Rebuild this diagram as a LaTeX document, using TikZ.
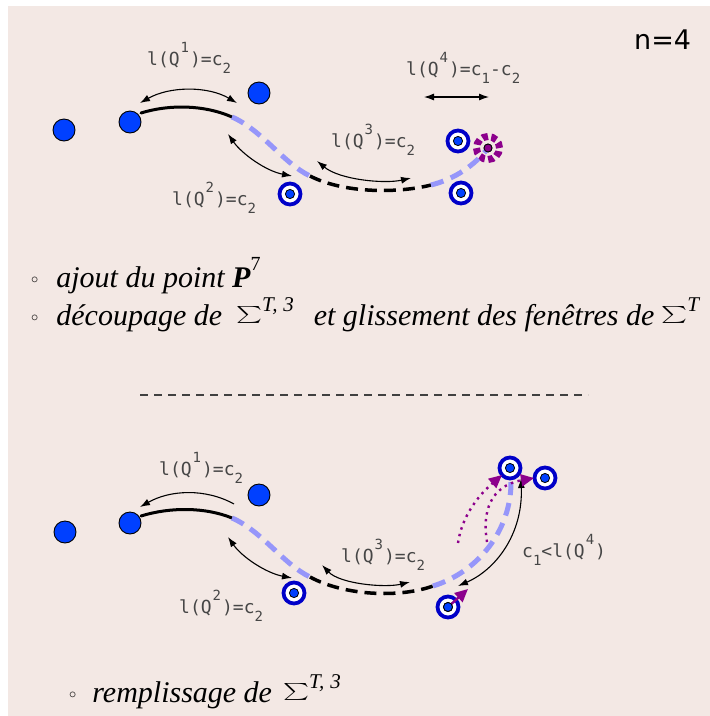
\documentclass[tikz,border=0pt]{standalone}
\usepackage{fontspec}
\newfontfamily\labfont{DejaVu Sans Mono}
\newfontfamily\nfont{DejaVu Sans}
\newfontfamily\txfont{Liberation Serif}
\usetikzlibrary{arrows.meta}
\definecolor{bgpink}{RGB}{243,232,228}
\definecolor{dotblue}{RGB}{0,64,255}
\definecolor{ringblue}{RGB}{0,0,200}
\definecolor{lblue}{RGB}{150,150,250}
\definecolor{purp}{RGB}{140,0,140}
\definecolor{labgray}{RGB}{70,70,70}
\newcommand\myup[1]{\hspace{1pt}\raisebox{0.7em}{\fontsize{14}{14}\selectfont #1}\hspace{1pt}}
\newcommand\mydn[1]{\raisebox{-0.45em}{\fontsize{14}{14}\selectfont #1}}
\newcommand\mybul{\raisebox{0.12em}{\fontsize{15}{15}\selectfont$\circ$}}
\newcommand\sumsym{\raisebox{\depth}{\resizebox*{26pt}{19pt}{$\sum$}}}
\newcommand\sig[1]{\sumsym\raisebox{0.45em}{\fontsize{21}{21}\selectfont #1}}
\tikzset{
 bdot/.style={circle, fill=dotblue, draw=black, line width=0.9pt, minimum size=22pt, inner sep=0pt},
 target/.style={circle, fill=white, draw=ringblue, line width=3.8pt, minimum size=21pt, inner sep=0pt,
   path picture={\filldraw[fill=dotblue,draw=black,line width=0.8pt] (path picture bounding box.center) circle (4.6pt);}},
 pdot/.style={circle, fill=purp, draw=black, line width=0.8pt, minimum size=8pt, inner sep=0pt},
 pring/.style={draw=purp, line width=7pt, dash pattern=on 5.6pt off 3.4pt},
 solidseg/.style={line width=3pt, black, line cap=round},
 lbdash/.style={line width=5pt, lblue, dash pattern=on 13pt off 8pt},
 bkdash/.style={line width=3.5pt, black, dash pattern=on 12pt off 7pt},
 dbl/.style={line width=1.1pt, {Latex[length=10pt,width=7pt]}-{Latex[length=10pt,width=7pt]}},
 sgl/.style={line width=1.1pt, -{Latex[length=10pt,width=7pt]}},
 parr/.style={purp, line width=2.4pt, -{Triangle[length=13pt,width=12pt]}},
 pdotted/.style={purp, line width=2.4pt, dash pattern=on 2.4pt off 4.5pt, -{Triangle[length=13pt,width=12pt]}},
 sepdash/.style={line width=1.1pt, black!75, dash pattern=on 8pt off 6pt},
 lab/.style={anchor=base west, inner sep=0pt, text=labgray, font=\labfont\fontsize{18}{18}\selectfont},
 btext/.style={anchor=base west, inner sep=0pt, font=\txfont\itshape\fontsize{30}{30}\selectfont},
}
\begin{document}
\begin{tikzpicture}[x=1pt,y=-1pt]
\useasboundingbox (0,0) rectangle (710,716);
\fill[white] (0,0) rectangle (710,716);
\fill[bgpink] (8,6) rectangle (710,716);

\node[anchor=base west, inner sep=0pt, font=\nfont\fontsize{27}{27}\selectfont] (nlab) at (634,49) {n=4};

% ---------- top panel ----------
\node[bdot] (d1) at (64,130) {};
\node[bdot] (d2) at (130,122) {};
\node[bdot] (d3) at (259,93) {};
\node[target] (t1) at (290,194) {};
\node[target] (t2) at (458,141) {};
\node[target] (t3) at (461,193) {};
\node[pdot] (p7) at (488,148) {};
\draw[pring] (p7.center) circle (11.5pt);

\coordinate (a1) at (141,113);
\coordinate (a2) at (232,117);
\coordinate (a3) at (310,176);
\coordinate (a4) at (431,185);
\draw[solidseg] (a1) .. controls (170,104) and (205,105) .. (a2);
\draw[lbdash] (a2) .. controls (262,130) and (283,163) .. (a3);
\draw[bkdash] (a3) .. controls (345,194) and (400,193) .. (a4);
\draw[lbdash] (a4) .. controls (455,179) and (475,165) .. (p7.center);
\node[pdot] at (p7) {};

\coordinate (q1s) at (140,103);
\coordinate (q1e) at (237,103);
\coordinate (q2s) at (228,134);
\coordinate (q2e) at (292,176);
\coordinate (q3s) at (317,161);
\coordinate (q3e) at (411,178);
\coordinate (q4s) at (424,97);
\coordinate (q4e) at (489,97);
\draw[dbl] (q1s) .. controls (170,86) and (208,86) .. (q1e);
\draw[dbl] (q2s) .. controls (242,154) and (266,171) .. (q2e);
\draw[dbl] (q3s) .. controls (340,180) and (385,184) .. (q3e);
\draw[dbl] (q4s) -- (q4e);

\node[lab] (l1) at (147,65) {l(Q\myup{1})=c\mydn{2}};
\node[lab] (l2) at (172,205) {l(Q\myup{2})=c\mydn{2}};
\node[lab] (l3) at (331,147) {l(Q\myup{3})=c\mydn{2}};
\node[lab] (l4) at (406,75) {l(Q\myup{4})=c\mydn{1}-c\mydn{2}};

% ---------- text ----------
\node[btext] (tx1) at (31,287) {\mybul\hspace{18pt}ajout du point \textbf{P}\raisebox{0.55em}{\upshape\fontsize{20}{20}\selectfont 7}};
\node[btext] (tx2) at (31,325) {\mybul\hspace{18pt}découpage de\hspace{14pt}\sig{\textit{T},\;3}\hspace{20pt}et glissement des fenêtres de\hspace{7pt}\sig{\textit{T}}};
\coordinate (s1) at (140,395);
\coordinate (s2) at (588,395);
\draw[sepdash] (s1) -- (s2);

% ---------- bottom panel ----------
\node[bdot] (e1) at (65,532) {};
\node[bdot] (e2) at (130,523) {};
\node[bdot] (e3) at (259,495) {};
\node[target] (u1) at (294,593) {};
\node[target] (u2) at (510,468) {};
\node[target] (u3) at (545,478) {};
\node[target] (u4) at (448,607) {};

\coordinate (b1) at (141,516);
\coordinate (b2) at (232,518);
\coordinate (b3) at (310,577);
\coordinate (b4) at (433,586);
\coordinate (b5) at (511,480);
\draw[solidseg] (b1) .. controls (170,507) and (205,507) .. (b2);
\draw[lbdash] (b2) .. controls (262,531) and (283,564) .. (b3);
\draw[bkdash] (b3) .. controls (345,596) and (400,598) .. (b4);
\draw[lbdash] (b4) .. controls (478,572) and (512,530) .. (b5);

\coordinate (r1s) at (234,504);
\coordinate (r1e) at (140,507);
\coordinate (r2s) at (228,537);
\coordinate (r2e) at (292,578);
\coordinate (r3s) at (322,565);
\coordinate (r3e) at (410,582);
\coordinate (r4s) at (521,478);
\coordinate (r4e) at (458,586);
\draw[sgl] (r1s) .. controls (205,488) and (170,490) .. (r1e);
\draw[dbl] (r2s) .. controls (242,557) and (266,573) .. (r2e);
\draw[dbl] (r3s) .. controls (340,584) and (385,588) .. (r3e);
\draw[dbl] (r4s) .. controls (523,535) and (495,570) .. (r4e);

\coordinate (pa) at (458,543);
\coordinate (pae) at (502,475);
\coordinate (pb) at (487,542);
\coordinate (pbe) at (534,478);
\coordinate (pce) at (468,589);
\draw[pdotted] (pa) .. controls (462,515) and (480,494) .. (pae);
\draw[pdotted] (pb) .. controls (482,512) and (490,486) .. (pbe);
\draw[parr] (u4.center) -- (pce);
\node[pdot, fill=dotblue, minimum size=9pt] at (u4) {};

\node[lab] (m1) at (159,475) {l(Q\myup{1})=c\mydn{2}};
\node[lab] (m2) at (179,613) {l(Q\myup{2})=c\mydn{2}};
\node[lab] (m3) at (341,562) {l(Q\myup{3})=c\mydn{2}};
\node[lab] (m4) at (522,557) {c\mydn{1}<l(Q\myup{4})};

\node[btext] (tx3) at (69,702) {\mybul\hspace{16pt}remplissage de\hspace{11pt}\sig{\textit{T},\;3}};
\end{tikzpicture}
\end{document}
